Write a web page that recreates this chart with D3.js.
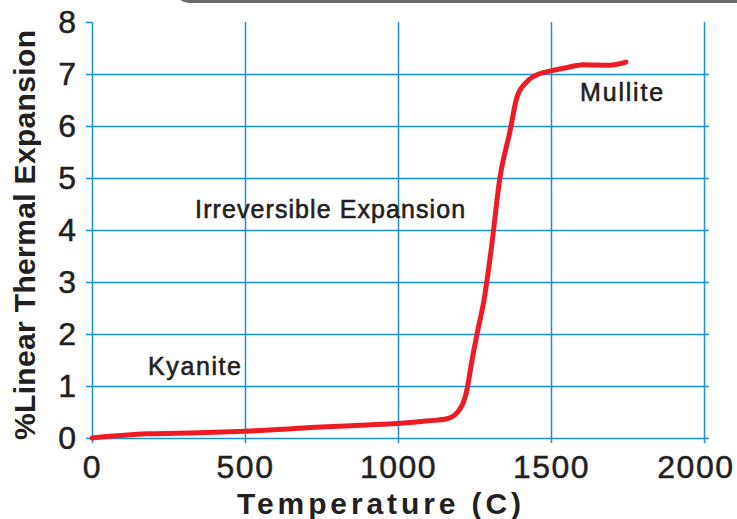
<!DOCTYPE html>
<html>
<head>
<meta charset="utf-8">
<script src="https://cdn.jsdelivr.net/npm/d3@7"></script>
<style>
  body { margin: 0; background: #fff; }
  svg { display: block; }
</style>
</head>
<body>
<script>
// readings: temperature (C) and % linear expansion
const temps = [0, 180, 350, 500, 750, 900, 1000, 1100, 1160, 1195, 1225, 1242, 1260, 1281, 1304, 1333, 1366, 1389, 1421, 1460, 1500, 1550, 1605, 1690, 1745]
const expansion = [0, 0.08, 0.1, 0.13, 0.21, 0.25, 0.28, 0.33, 0.37, 0.5, 0.92, 1.5, 2.05, 2.65, 3.6, 5.0, 5.9, 6.56, 6.85, 7.0, 7.06, 7.12, 7.18, 7.17, 7.23]

const xTicks = [0, 500, 1000, 1500, 2000]
const yTicks = [0, 1, 2, 3, 4, 5, 6, 7, 8]

const labels = [
  { text: 'Kyanite', t: 183, v: 1.21, len: 93 },
  { text: 'Irreversible Expansion', t: 337, v: 4.23, len: 270 },
  { text: 'Mullite', t: 1595, v: 6.48, len: 83 }
]

const W = 737
const H = 519
const margin = { left: 92, top: 22, right: 33, bottom: 81 }
const width = W - margin.left - margin.right
const height = H - margin.top - margin.bottom

const blue = '#1a8fd6'
const ink = '#231f20'
const font = '"Liberation Sans", Arial, Helvetica, sans-serif'

const svg = d3.select('body').append('svg')
  .attr('width', W)
  .attr('height', H)

// grey tab cut off at the top
svg.append('rect')
  .attr('x', 175).attr('y', -30)
  .attr('width', 620).attr('height', 33)
  .attr('rx', 14)
  .attr('fill', '#6b6d69')

const g = svg.append('g')
  .attr('transform', `translate(${margin.left},${margin.top})`)

const x = d3.scaleLinear().domain([0, 2000]).range([0, width])
const y = d3.scaleLinear().domain([0, 8]).range([height, 0])

const yAxis = g => g
  .call(d3.axisLeft(y).tickValues(yTicks).tickSize(6).tickPadding(10))
  .call(g => g.select('.domain').remove())
  .call(g => g.selectAll('.tick line')
    .attr('stroke', blue)
    .attr('stroke-width', 1.5)
    .attr('x1', d => d < 8 ? width + 5 : 0))
  .call(g => g.selectAll('.tick text')
    .attr('fill', ink)
    .attr('stroke', ink)
    .attr('stroke-width', 0.5)
    .attr('font-size', 32)
    .attr('font-family', font))

const xAxis = g => g
  .attr('transform', `translate(0,${height})`)
  .call(d3.axisBottom(x).tickValues(xTicks).tickFormat(d3.format('d')).tickSize(5).tickPadding(12))
  .call(g => g.select('.domain').remove())
  .call(g => g.selectAll('.tick line')
    .attr('stroke', blue)
    .attr('stroke-width', 1.5)
    .attr('y1', -height))
  .call(g => g.selectAll('.tick text')
    .attr('fill', ink)
    .attr('stroke', ink)
    .attr('stroke-width', 0.5)
    .attr('font-size', 32)
    .attr('letter-spacing', 1.5)
    .attr('font-family', font))
  // the last label is pulled in so it stays inside the frame
  .call(g => g.select('.tick:last-of-type text')
    .attr('text-anchor', 'end')
    .attr('x', 30))

g.append('g').call(yAxis)
g.append('g').call(xAxis)

const line = d3.line()
  .x(d => x(d[0]))
  .y(d => y(d[1]))
  .curve(d3.curveMonotoneX)

g.append('path')
  .datum(temps.map((t, i) => [t, expansion[i]]))
  .attr('fill', 'none')
  .attr('stroke', '#ed1c24')
  .attr('stroke-width', 5)
  .attr('stroke-linecap', 'round')
  .attr('stroke-linejoin', 'round')
  .attr('d', line)

g.append('g')
  .selectAll('text')
  .data(labels).enter()
  .append('text')
  .attr('x', d => x(d.t))
  .attr('y', d => y(d.v))
  .attr('font-family', font)
  .attr('font-size', 25)
  .attr('fill', ink)
  .attr('stroke', ink)
  .attr('stroke-width', 0.6)
  .attr('textLength', d => d.len)
  .attr('lengthAdjust', 'spacing')
  .text(d => d.text)

svg.append('text')
  .text('Temperature (C)')
  .attr('x', 237)
  .attr('y', 514)
  .attr('font-family', font)
  .attr('font-weight', 'bold')
  .attr('font-size', 30)
  .attr('fill', ink)
  .attr('textLength', 284)
  .attr('lengthAdjust', 'spacing')

svg.append('text')
  .text('%Linear Thermal Expansion')
  .attr('transform', 'translate(35,440) rotate(-90)')
  .attr('font-family', font)
  .attr('font-weight', 'bold')
  .attr('font-size', 30)
  .attr('fill', ink)
  .attr('textLength', 410)
  .attr('lengthAdjust', 'spacing')
</script>
</body>
</html>
